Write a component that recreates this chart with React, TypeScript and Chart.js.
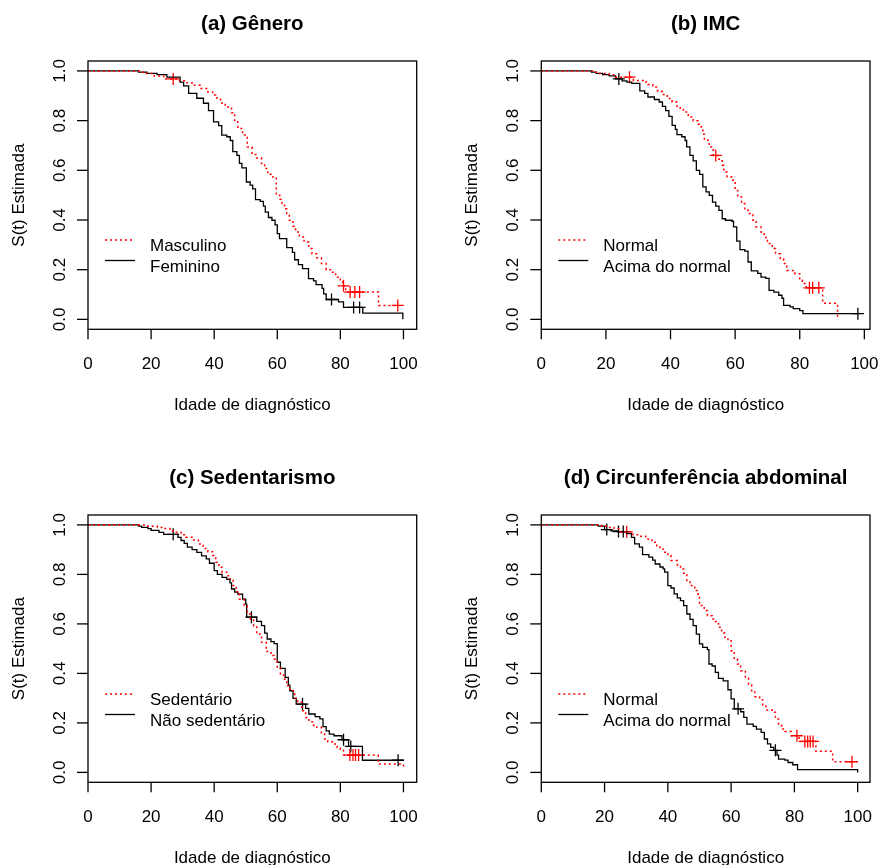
import React, { useEffect, useRef } from "react";
import { Chart, registerables } from "chart.js";

Chart.register(...registerables);

// ---------- shared axis data ----------
const xTicks = [0, 20, 40, 60, 80, 100];
const yTicks = [0, 0.2, 0.4, 0.6, 0.8, 1.0];
const yTickLabels = ["0.0", "0.2", "0.4", "0.6", "0.8", "1.0"];
const xAxisLabel = "Idade de diagnóstico";
const yAxisLabel = "S(t) Estimada";

// ---------- (a) Gênero ----------
const aTitle = "(a) Gênero";
const aRedName = "Masculino";
const aBlackName = "Feminino";
const aRedT = [0, 17, 18.5, 21, 24, 29, 31, 33, 35.5, 38, 39.5, 40.5, 42, 43.5, 45.5, 46.5, 47.5, 49, 50.5, 52, 53.5, 55, 56, 57, 58.3, 59.7, 60.8, 61.5, 62.3, 63, 63.8, 65, 65.8, 67, 68.5, 70, 71, 72.5, 74, 75.5, 77.5, 78.5, 80, 80.7, 81.7, 92.1, 98];
const aRedS = [1, 0.995, 0.99, 0.98, 0.968, 0.96, 0.952, 0.942, 0.929, 0.915, 0.903, 0.891, 0.871, 0.855, 0.832, 0.795, 0.768, 0.742, 0.694, 0.664, 0.65, 0.627, 0.607, 0.584, 0.573, 0.5, 0.483, 0.466, 0.445, 0.426, 0.399, 0.375, 0.352, 0.332, 0.311, 0.285, 0.264, 0.248, 0.225, 0.2, 0.19, 0.17, 0.155, 0.135, 0.11, 0.056, 0.056];
const aRedCensT = [27, 81, 83.1, 84.6, 86.1, 98.2];
const aRedCensS = [0.968, 0.135, 0.11, 0.11, 0.11, 0.056];
const aBlackT = [0, 16, 18.7, 21.9, 25, 29.2, 30.3, 31.9, 34.5, 36.6, 38.2, 39.8, 41.4, 42.4, 44, 45.1, 45.9, 47.2, 48, 48.8, 50.2, 51.4, 52.2, 53.1, 54.6, 55.6, 56.2, 57.2, 58.3, 59.3, 60, 60.7, 63, 64.8, 65.5, 66.7, 68, 69.9, 71.5, 72.3, 74.2, 74.7, 75.5, 79.4, 81, 87.1, 99.8];
const aBlackS = [1, 0.995, 0.99, 0.985, 0.975, 0.955, 0.94, 0.91, 0.89, 0.87, 0.84, 0.795, 0.78, 0.742, 0.735, 0.72, 0.675, 0.66, 0.628, 0.61, 0.553, 0.54, 0.525, 0.482, 0.475, 0.456, 0.432, 0.41, 0.399, 0.38, 0.345, 0.325, 0.289, 0.27, 0.24, 0.22, 0.204, 0.164, 0.155, 0.14, 0.125, 0.103, 0.08, 0.07, 0.048, 0.025, 0];
const aBlackCensT = [77.2, 84.2, 86.1];
const aBlackCensS = [0.08, 0.048, 0.048];
const aXMax = 104.2;

// ---------- (b) IMC ----------
const bTitle = "(b) IMC";
const bRedName = "Normal";
const bBlackName = "Acima do normal";
const bRedT = [0, 16.5, 18, 21, 23, 28.5, 31.5, 33, 34.5, 36, 37.5, 39, 40.5, 42, 43, 44, 45.5, 47, 48.5, 49.5, 50, 50.5, 52, 53.2, 55, 56, 56.5, 57.5, 59, 60, 60.8, 62, 63, 64, 65.5, 66.5, 68, 69, 70, 71.5, 72.5, 74, 75, 76, 78.5, 80, 80.8, 82, 87.1, 91.7];
const bRedS = [1, 0.995, 0.99, 0.985, 0.975, 0.962, 0.955, 0.945, 0.935, 0.917, 0.905, 0.889, 0.875, 0.858, 0.845, 0.835, 0.815, 0.799, 0.785, 0.774, 0.745, 0.721, 0.694, 0.66, 0.645, 0.62, 0.593, 0.573, 0.56, 0.519, 0.493, 0.466, 0.445, 0.426, 0.399, 0.372, 0.352, 0.33, 0.305, 0.285, 0.264, 0.244, 0.225, 0.197, 0.184, 0.157, 0.144, 0.127, 0.065, 0];
const bRedCensT = [27.3, 54, 83, 84, 85.9];
const bRedCensS = [0.975, 0.66, 0.127, 0.127, 0.127];
const bBlackT = [0, 15.5, 17, 19, 21, 23, 25, 26.5, 28, 30.5, 32, 33, 35, 36.5, 37.5, 38.5, 39.5, 40.5, 41.5, 42, 43.5, 44.5, 45, 46, 47, 48, 49, 50, 51, 52, 53, 54, 55, 56, 57, 59, 59.5, 60.5, 61.5, 63, 64, 65, 67, 68, 69.5, 70.5, 72, 73.5, 74.5, 75, 77, 78, 80, 81, 98];
const bBlackS = [1, 0.995, 0.99, 0.985, 0.98, 0.968, 0.96, 0.955, 0.95, 0.92, 0.91, 0.895, 0.885, 0.875, 0.857, 0.84, 0.817, 0.781, 0.765, 0.744, 0.735, 0.72, 0.694, 0.66, 0.638, 0.6, 0.584, 0.533, 0.513, 0.499, 0.472, 0.456, 0.439, 0.405, 0.399, 0.395, 0.372, 0.315, 0.281, 0.275, 0.231, 0.195, 0.185, 0.17, 0.165, 0.117, 0.11, 0.097, 0.085, 0.056, 0.05, 0.043, 0.035, 0.023, 0.023];
const bBlackCensT = [24, 98];
const bBlackCensS = [0.968, 0.023];
const bXMax = 101.75;

// ---------- (c) Sedentarismo ----------
const cTitle = "(c) Sedentarismo";
const cRedName = "Sedentário";
const cBlackName = "Não sedentário";
const cRedT = [0, 19, 22, 24, 26, 28, 29.5, 31, 33, 35, 36.5, 38, 39.5, 40.5, 41.5, 42.5, 44, 45, 46, 47, 48, 49.5, 50.5, 51.5, 52.5, 53.5, 55, 56.5, 58, 59, 60, 61, 62, 63, 64, 65.5, 66.5, 67.8, 69, 70, 71.5, 72.5, 74, 75, 76, 77.5, 79, 80, 81, 92, 100];
const cRedS = [1, 0.995, 0.99, 0.985, 0.975, 0.97, 0.96, 0.95, 0.939, 0.923, 0.905, 0.892, 0.876, 0.849, 0.829, 0.809, 0.795, 0.782, 0.755, 0.73, 0.7, 0.674, 0.64, 0.62, 0.593, 0.559, 0.526, 0.488, 0.472, 0.458, 0.425, 0.398, 0.377, 0.35, 0.33, 0.3, 0.283, 0.249, 0.222, 0.205, 0.19, 0.182, 0.155, 0.135, 0.124, 0.115, 0.101, 0.094, 0.07, 0.034, 0.015];
const cRedCensT = [83, 84, 84.8, 85.8];
const cRedCensS = [0.07, 0.07, 0.07, 0.07];
const cBlackT = [0, 16, 17, 19, 20, 22.5, 24, 28.5, 29.5, 30.5, 31.5, 33, 34.5, 36, 37.5, 38.5, 40, 41, 42.5, 44, 45, 45.5, 46.5, 47.5, 49, 50, 50.3, 53.5, 55, 56, 56.8, 58, 59, 60, 61, 62.5, 63.5, 64, 65, 66, 69, 70, 72, 73.5, 74.5, 75.5, 76.5, 78, 80.5, 82.6, 87, 100];
const cBlackS = [1, 0.995, 0.99, 0.985, 0.978, 0.97, 0.962, 0.95, 0.937, 0.925, 0.91, 0.9, 0.889, 0.875, 0.863, 0.845, 0.815, 0.8, 0.788, 0.78, 0.766, 0.741, 0.728, 0.72, 0.7, 0.68, 0.627, 0.61, 0.593, 0.563, 0.539, 0.528, 0.52, 0.445, 0.42, 0.384, 0.353, 0.33, 0.299, 0.276, 0.259, 0.236, 0.225, 0.216, 0.185, 0.168, 0.155, 0.148, 0.132, 0.105, 0.049, 0.049];
const cBlackCensT = [27, 51.8, 68, 81, 83.3, 98.3];
const cBlackCensS = [0.962, 0.627, 0.276, 0.132, 0.105, 0.049];
const cXMax = 104.2;

// ---------- (d) Circunferência abdominal ----------
const dTitle = "(d) Circunferência abdominal";
const dRedName = "Normal";
const dBlackName = "Acima do normal";
const dRedT = [0, 19, 21, 23, 25, 29, 31, 33, 35, 36.5, 37.5, 38.5, 40, 41, 43, 44, 45, 46, 47, 48.5, 49.5, 50, 51.5, 52.5, 54, 55, 56, 57, 58, 59, 60, 61, 62, 63, 64.5, 65.5, 66.5, 67.5, 69, 70, 71, 73, 74, 75, 76, 77, 79, 81.5, 86.8, 92.1, 98.2];
const dRedS = [1, 0.995, 0.99, 0.985, 0.972, 0.96, 0.954, 0.943, 0.93, 0.916, 0.903, 0.89, 0.876, 0.856, 0.838, 0.822, 0.805, 0.775, 0.755, 0.735, 0.72, 0.674, 0.654, 0.633, 0.62, 0.61, 0.586, 0.563, 0.546, 0.532, 0.492, 0.458, 0.438, 0.411, 0.38, 0.353, 0.33, 0.306, 0.294, 0.272, 0.252, 0.243, 0.216, 0.19, 0.175, 0.165, 0.148, 0.125, 0.085, 0.043, 0.043];
const dRedCensT = [27, 80.8, 83.3, 84.2, 85, 85.9, 98.2];
const dRedCensS = [0.972, 0.148, 0.125, 0.125, 0.125, 0.125, 0.043];
const dBlackT = [0, 18, 20, 22, 24, 27, 28.5, 29.5, 31, 32, 34, 35.2, 36, 37.5, 38.5, 39, 40, 41, 42, 43, 44, 45, 46, 47, 48, 49, 50, 51, 52.5, 53, 54, 55, 56, 57.5, 59, 60, 61, 63, 64, 65, 67, 68, 69.5, 70.5, 71.5, 72.5, 73.5, 74.5, 75, 77, 78, 79.5, 81, 100];
const dBlackS = [1, 0.995, 0.981, 0.976, 0.973, 0.965, 0.95, 0.923, 0.91, 0.88, 0.87, 0.858, 0.842, 0.83, 0.822, 0.809, 0.755, 0.745, 0.721, 0.705, 0.694, 0.674, 0.64, 0.618, 0.593, 0.559, 0.519, 0.505, 0.496, 0.438, 0.43, 0.404, 0.38, 0.37, 0.334, 0.297, 0.257, 0.245, 0.222, 0.195, 0.186, 0.175, 0.162, 0.135, 0.115, 0.101, 0.089, 0.07, 0.054, 0.05, 0.04, 0.031, 0.011, 0];
const dBlackCensT = [20.7, 24.4, 25.9, 62.2, 74];
const dBlackCensS = [0.981, 0.973, 0.973, 0.257, 0.089];
const dXMax = 103.9;

// ---------- helpers ----------
const FONT = '"Liberation Sans", Arial, Helvetica, sans-serif';
const RED = "#FF0000";

type Panel = {
  title: string;
  redName: string;
  blackName: string;
  redT: number[];
  redS: number[];
  redCT: number[];
  redCS: number[];
  blackT: number[];
  blackS: number[];
  blackCT: number[];
  blackCS: number[];
  xMax: number;
  box: { l: number; t: number; r: number; b: number };
};

const W = 881;
const H = 865;

const panels: Panel[] = [
  { title: aTitle, redName: aRedName, blackName: aBlackName, redT: aRedT, redS: aRedS, redCT: aRedCensT, redCS: aRedCensS, blackT: aBlackT, blackS: aBlackS, blackCT: aBlackCensT, blackCS: aBlackCensS, xMax: aXMax, box: { l: 88, t: 61, r: 416.7, b: 329.3 } },
  { title: bTitle, redName: bRedName, blackName: bBlackName, redT: bRedT, redS: bRedS, redCT: bRedCensT, redCS: bRedCensS, blackT: bBlackT, blackS: bBlackS, blackCT: bBlackCensT, blackCS: bBlackCensS, xMax: bXMax, box: { l: 541.3, t: 61, r: 870, b: 329.3 } },
  { title: cTitle, redName: cRedName, blackName: cBlackName, redT: cRedT, redS: cRedS, redCT: cRedCensT, redCS: cRedCensS, blackT: cBlackT, blackS: cBlackS, blackCT: cBlackCensT, blackCS: cBlackCensS, xMax: cXMax, box: { l: 88, t: 515, r: 416.7, b: 782.3 } },
  { title: dTitle, redName: dRedName, blackName: dBlackName, redT: dRedT, redS: dRedS, redCT: dRedCensT, redCS: dRedCensS, blackT: dBlackT, blackS: dBlackS, blackCT: dBlackCensT, blackCS: dBlackCensS, xMax: dXMax, box: { l: 541.3, t: 515, r: 870, b: 782.3 } },
];

const zip = (t: number[], s: number[]) => t.map((v, i) => ({ x: v, y: s[i] }));

function makeDecor(p: Panel) {
  return {
    id: "rdecor",
    afterDraw(chart: any) {
      const { ctx, chartArea } = chart;
      const { left, right, top, bottom } = chartArea;
      const xs = chart.scales.x;
      const ys = chart.scales.y;
      ctx.save();
      ctx.strokeStyle = "#000";
      ctx.fillStyle = "#000";
      ctx.lineWidth = 1.3;
      ctx.setLineDash([]);
      ctx.strokeRect(left, top, right - left, bottom - top);
      // x ticks
      ctx.font = `17px ${FONT}`;
      ctx.textAlign = "center";
      ctx.textBaseline = "middle";
      xTicks.forEach((v) => {
        const px = xs.getPixelForValue(v);
        ctx.beginPath();
        ctx.moveTo(px, bottom);
        ctx.lineTo(px, bottom + 10);
        ctx.stroke();
        ctx.fillText(String(v), px, bottom + 35);
      });
      // y ticks
      yTicks.forEach((v, i) => {
        const py = ys.getPixelForValue(v);
        ctx.beginPath();
        ctx.moveTo(left - 11, py);
        ctx.lineTo(left, py);
        ctx.stroke();
        ctx.save();
        ctx.translate(left - 28, py);
        ctx.rotate(-Math.PI / 2);
        ctx.fillText(yTickLabels[i], 0, 0);
        ctx.restore();
      });
      // axis labels
      ctx.fillText(xAxisLabel, (left + right) / 2, bottom + 76);
      ctx.save();
      ctx.translate(left - 69, (top + bottom) / 2);
      ctx.rotate(-Math.PI / 2);
      ctx.fillText(yAxisLabel, 0, 0);
      ctx.restore();
      // title
      ctx.font = `bold 20.5px ${FONT}`;
      ctx.fillText(p.title, (left + right) / 2, top - 36.5);
      // legend
      const ly1 = top + 179;
      const ly2 = top + 199.5;
      ctx.lineWidth = 1.5;
      ctx.strokeStyle = RED;
      ctx.setLineDash([2, 3]);
      ctx.beginPath();
      ctx.moveTo(left + 17, ly1);
      ctx.lineTo(left + 47, ly1);
      ctx.stroke();
      ctx.setLineDash([]);
      ctx.lineWidth = 1.3;
      ctx.strokeStyle = "#000";
      ctx.beginPath();
      ctx.moveTo(left + 17, ly2);
      ctx.lineTo(left + 47, ly2);
      ctx.stroke();
      ctx.font = `17px ${FONT}`;
      ctx.textAlign = "left";
      ctx.textBaseline = "alphabetic";
      ctx.fillText(p.redName, left + 62, ly1 + 11);
      ctx.fillText(p.blackName, left + 62, ly2 + 11);
      ctx.restore();
    },
  };
}

function PanelChart({ p }: { p: Panel }) {
  const ref = useRef<HTMLCanvasElement | null>(null);
  useEffect(() => {
    if (!ref.current) return;
    const chart = new Chart(ref.current, {
      type: "line",
      data: {
        datasets: [
          {
            label: p.redName,
            data: zip(p.redT, p.redS),
            borderColor: RED,
            borderWidth: 1.5,
            borderDash: [2, 3],
            stepped: "before",
            pointRadius: 0,
            fill: false,
          },
          {
            label: p.blackName,
            data: zip(p.blackT, p.blackS),
            borderColor: "#000",
            borderWidth: 1.3,
            stepped: "before",
            pointRadius: 0,
            fill: false,
          },
          {
            label: p.redName + " censura",
            data: zip(p.redCT, p.redCS),
            showLine: false,
            pointStyle: "cross",
            pointRadius: 6,
            pointBorderWidth: 1.3,
            pointBorderColor: RED,
            borderColor: RED,
          },
          {
            label: p.blackName + " censura",
            data: zip(p.blackCT, p.blackCS),
            showLine: false,
            pointStyle: "cross",
            pointRadius: 6,
            pointBorderWidth: 1.3,
            pointBorderColor: "#000",
            borderColor: "#000",
          },
        ],
      },
      options: {
        responsive: false,
        animation: false,
        events: [],
        layout: {
          padding: { left: p.box.l, top: p.box.t, right: W - p.box.r, bottom: H - p.box.b },
        },
        plugins: { legend: { display: false }, tooltip: { enabled: false }, title: { display: false } },
        scales: {
          x: { type: "linear", min: 0, max: p.xMax, display: false },
          y: { type: "linear", min: -0.04, max: 1.04, display: false },
        },
      },
      plugins: [makeDecor(p)],
    });
    return () => chart.destroy();
  }, [p]);
  return (
    <canvas
      ref={ref}
      width={W}
      height={H}
      style={{ position: "absolute", left: 0, top: 0, width: W, height: H }}
    />
  );
}

export default function App() {
  return (
    <div style={{ position: "absolute", left: 0, top: 0, width: W, height: H, background: "#fff", overflow: "hidden" }}>
      {panels.map((p, i) => (
        <PanelChart key={i} p={p} />
      ))}
    </div>
  );
}
